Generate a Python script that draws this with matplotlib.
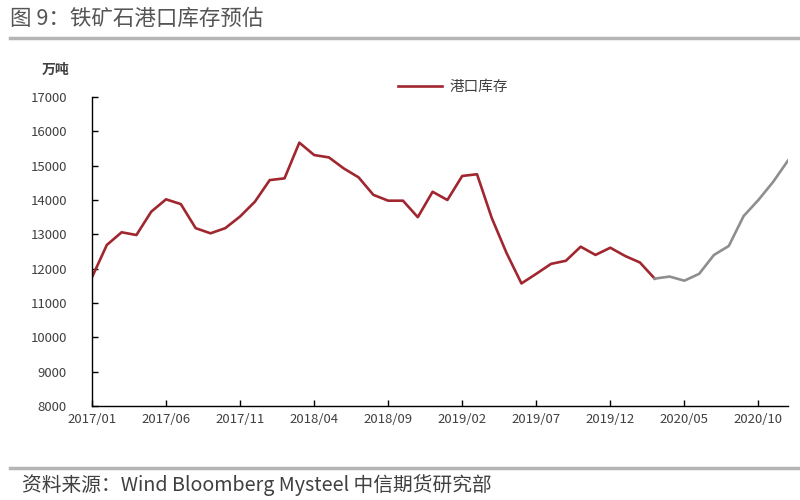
# Iron ore port inventory estimate (图 9)

import matplotlib
matplotlib.use("Agg")
import matplotlib.pyplot as plt
import pandas as pd

plt.rcParams["font.family"] = ["Noto Sans CJK SC", "DejaVu Sans"]

# monthly port inventory, 万吨, 2017/01 .. 2020/12
months = [p.strftime("%Y/%m") for p in pd.period_range("2017-01", "2020-12", freq="M")]
inventory = [
    11750, 12690, 13060, 12980, 13660, 14020, 13880, 13180, 13030, 13180,
    13520, 13950, 14580, 14630, 15670, 15310, 15240, 14920, 14660, 14150,
    13980, 13980, 13500, 14240, 14000, 14700, 14750, 13470, 12450, 11570,
    11850, 12140, 12230, 12640, 12400, 12610, 12370, 12180, 11710, 11770,
    11650, 11850, 12400, 12660, 13530, 14000, 14530, 15150,
]
forecast_start = 38  # index where the grey projection begins
tick_every = 5

series_name = "港口库存"
title = "图 9：铁矿石港口库存预估"
source = "资料来源：Wind Bloomberg Mysteel 中信期货研究部"
unit = "万吨"

red = "#a0262f"
grey = "#8e8e8e"
text_color = "#404040"

fig = plt.figure(figsize=(8, 5), dpi=100)
ax = fig.add_axes([0.115, 0.188, 0.87, 0.618])

x = list(range(len(months)))
line, = ax.plot(x[:forecast_start + 1], inventory[:forecast_start + 1], color=red, lw=1.9, label=series_name)
ax.plot(x[forecast_start:], inventory[forecast_start:], color=grey, lw=1.9)

ax.set_xlim(0, len(months) - 1)
ax.set_ylim(8000, 17000)
ax.set_yticks(range(8000, 17001, 1000))
ax.set_xticks(x[::tick_every])
ax.set_xticklabels(months[::tick_every])

for side in ["top", "right"]:
    ax.spines[side].set_visible(False)
for side in ["left", "bottom"]:
    ax.spines[side].set_color("black")
    ax.spines[side].set_linewidth(1.0)
ax.tick_params(direction="in", length=4, width=1, labelsize=9.5, labelcolor=text_color, pad=5)
ax.tick_params(axis="y", pad=18)

fig.legend(handles=[line], loc="center left", bbox_to_anchor=(0.498, 0.826), frameon=False,
           fontsize=10.5, handlelength=3.0, handletextpad=0.5, borderaxespad=0, borderpad=0,
           labelcolor=text_color)

fig.text(0.069, 0.86, unit, fontsize=10, fontweight="bold", color=text_color, ha="center", va="center")

# header and footer
fig.text(0.012, 0.962, title, fontsize=15.5, color="#555555", va="center")
fig.add_artist(plt.Line2D([0.012, 1.0], [0.924, 0.924], color="#b5b5b5", lw=2.5))
fig.add_artist(plt.Line2D([0.012, 1.0], [0.064, 0.064], color="#b5b5b5", lw=2.5))
fig.text(0.028, 0.03, source, fontsize=14.2, color=text_color, va="center")

fig.savefig("out.png", dpi=100)
